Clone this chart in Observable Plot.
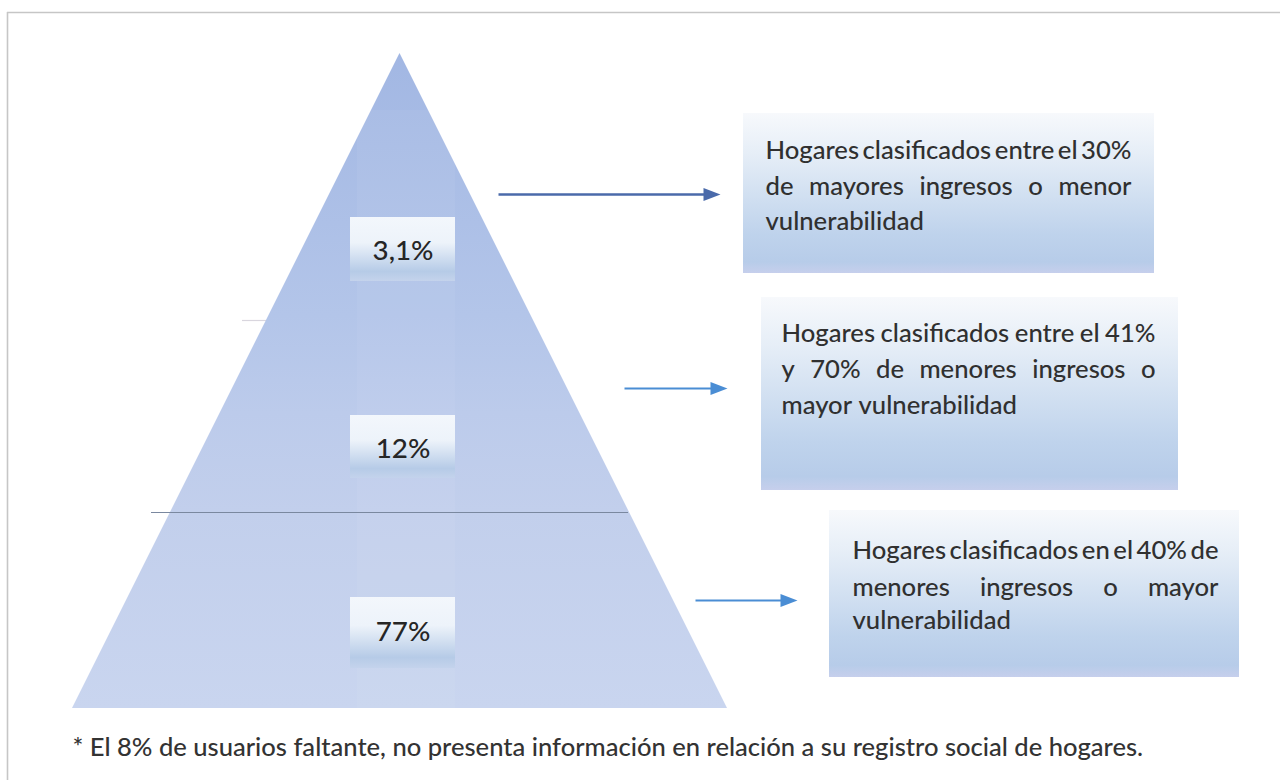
<!DOCTYPE html>
<html>
<head>
<meta charset="utf-8">
<script src="https://cdn.jsdelivr.net/npm/d3@7"></script>
<script src="https://cdn.jsdelivr.net/npm/@observablehq/plot@0.6"></script>
<style>
  html, body { margin: 0; padding: 0; background: #ffffff; }
  #chart svg { display: block; }
</style>
</head>
<body>
<div id="chart"></div>
<script>
// ---------------- data ----------------
const levels = ["top", "middle", "bottom"];
const shares = ["3,1%", "12%", "77%"];
const descriptionTop = ["Hogares clasificados entre el 30%", "de mayores ingresos o menor", "vulnerabilidad"];
const descriptionMiddle = ["Hogares clasificados entre el 41%", "y 70% de menores ingresos o", "mayor vulnerabilidad"];
const descriptionBottom = ["Hogares clasificados en el 40% de", "menores ingresos o mayor", "vulnerabilidad"];
const footnote = "* El 8% de usuarios faltante, no presenta información en relación a su registro social de hogares.";

// ---------------- layout (pixel space, identity scales) ----------------
const W = 1280, H = 780;
const FAMILY = "Lato";
const pyramid = {cx: 399.5, apexY: 53, baseY: 708, baseHalf: 327.5, divider: 512, faintY: 320};
const labelLayout = [
  {x1: 350, x2: 455, y1: 217, y2: 281, ty: 251},
  {x1: 350, x2: 455, y1: 415, y2: 478, ty: 449},
  {x1: 350, x2: 455, y1: 597, y2: 668, ty: 632}
];
const boxLayout = [
  {x1: 743, x2: 1154, y1: 113, y2: 273, tx1: 765, tx2: 1131, lineY: [150, 186, 221]},
  {x1: 761, x2: 1178, y1: 297, y2: 490, tx1: 781, tx2: 1155, lineY: [333, 369, 405]},
  {x1: 829, x2: 1239, y1: 510, y2: 677, tx1: 852, tx2: 1218, lineY: [550, 587, 620]}
];
const arrowLayout = [
  {x1: 498, x2: 711, y: 194, color: "#4a6aaa", w: 2.6},
  {x1: 624, x2: 718, y: 388, color: "#4a8dd4", w: 2.2},
  {x1: 695, x2: 788, y: 600, color: "#4a8dd4", w: 2.2}
];
const captionLayout = {x: 72, y: 747, width: 1071};

// ---------------- text measurement ----------------
const ctx = document.createElement("canvas").getContext("2d");
function textWidth(str, size, weight = 400) { ctx.font = `${weight} ${size}px ${FAMILY}`; return ctx.measureText(str).width; }
function fitSize(str, target, weight = 400) { return 20 * target / textWidth(str, 20, weight); }

const boxFont = fitSize(descriptionTop[0], 378, 500);
const labelFont = fitSize(shares[0], 61, 500);
const captionFont = fitSize(footnote, captionLayout.width, 500);

// ---------------- derived tables ----------------
const halfAt = y => pyramid.baseHalf * (y - pyramid.apexY) / (pyramid.baseY - pyramid.apexY);
const pyramidOutline = [pyramid.apexY, pyramid.baseY].map(y => ({y, x1: pyramid.cx - halfAt(y), x2: pyramid.cx + halfAt(y)}));

const labels = levels.map((lvl, i) => ({level: lvl, share: shares[i], ...labelLayout[i], x: (labelLayout[i].x1 + labelLayout[i].x2) / 2}));
const boxes = levels.map((lvl, i) => ({level: lvl, ...boxLayout[i]}));
const arrows = levels.map((lvl, i) => ({level: lvl, ...arrowLayout[i]}));

const descriptions = [descriptionTop, descriptionMiddle, descriptionBottom];
const words = [];
descriptions.forEach((lines, i) => {
  const b = boxLayout[i];
  const target = b.tx2 - b.tx1;
  lines.forEach((line, j) => {
    const ws = line.split(" ");
    const widths = ws.map(w => textWidth(w, boxFont, 500));
    const total = d3.sum(widths);
    const last = j === lines.length - 1;
    const space = (last || ws.length < 2) ? textWidth(" ", boxFont, 500) : Math.max(1, (target - total) / (ws.length - 1));
    let x = b.tx1;
    ws.forEach((w, k) => { words.push({text: w, x, y: b.lineY[j]}); x += widths[k] + space; });
  });
});

// arrow head symbol (filled, pointing right)
const headSymbol = {
  draw(context) {
    context.moveTo(9, 0);
    context.lineTo(-8, -6.5);
    context.lineTo(-8, 6.5);
    context.closePath();
  }
};

const svg = Plot.plot({
  width: W,
  height: H,
  margin: 0,
  x: {domain: [0, W], range: [0, W], axis: null},
  y: {domain: [0, H], range: [0, H], axis: null},
  style: {background: "#ffffff", fontFamily: FAMILY},
  marks: [
    // frame
    Plot.ruleY([12], {x1: 7, x2: W, stroke: "#c6c6c6", strokeWidth: 1.6}),
    Plot.ruleX([7], {y1: 12, y2: H, stroke: "#c6c6c6", strokeWidth: 1.6}),
    // faint hidden divider tick
    Plot.ruleY([pyramid.faintY], {x1: 242, x2: 268, stroke: "#d9d6de", strokeWidth: 1.2}),
    // pyramid body
    Plot.areaX(pyramidOutline, {y: "y", x1: "x1", x2: "x2", fill: "url(#pyrGrad)"}),
    // lighter central column
    Plot.rect([0], {x1: 357, x2: 455, y1: 110, y2: pyramid.baseY, fill: "#ffffff", fillOpacity: 0.05}),
    // divider line
    Plot.ruleY([pyramid.divider], {x1: 151, x2: 628, stroke: "#7a889f", strokeWidth: 1.2}),
    // share label boxes
    Plot.rect(labels, {x1: "x1", x2: "x2", y1: "y1", y2: "y2", fill: "url(#lblGrad)", ariaLabel: "label-box"}),
    Plot.text(labels, {x: "x", y: "ty", text: "share", fontSize: labelFont, fontFamily: FAMILY, fontWeight: 500, fill: "#262626"}),
    // arrows
    Plot.link(arrows, {x1: "x1", x2: "x2", y1: "y", y2: "y", stroke: "color", strokeWidth: "w"}),
    Plot.dot(arrows, {x: "x2", y: "y", symbol: headSymbol, fill: "color", stroke: null, r: 6}),
    // description boxes
    Plot.rect(boxes, {x1: "x1", x2: "x2", y1: "y1", y2: "y2", fill: "url(#boxGrad)", ariaLabel: "desc-box"}),
    Plot.text(words, {x: "x", y: "y", text: "text", textAnchor: "start", fontSize: boxFont, fontFamily: FAMILY, fontWeight: 500, fill: "#303030"}),
    // footnote
    Plot.text([footnote], {x: captionLayout.x, y: captionLayout.y, text: d => d, textAnchor: "start", fontSize: captionFont, fontFamily: FAMILY, fontWeight: 500, fill: "#333333"})
  ]
});

// gradients and soft edges
const defs = d3.select(svg).insert("defs", ":first-child");
function grad(id, stops) {
  const g = defs.append("linearGradient").attr("id", id).attr("x1", 0).attr("y1", 0).attr("x2", 0).attr("y2", 1);
  stops.forEach(([o, c]) => g.append("stop").attr("offset", o).attr("stop-color", c));
}
grad("pyrGrad", [[0, "#a2b7e3"], [0.4, "#b3c5e9"], [0.55, "#bccbeb"], [0.7, "#c2cfec"], [1, "#c9d5ef"]]);
grad("lblGrad", [[0, "#f3f7fc"], [0.4, "#edf3fa"], [0.85, "#b6cbe7"], [1, "#c4d3ec"]]);
grad("boxGrad", [[0, "#f7f9fc"], [0.25, "#e6eef7"], [0.75, "#bfd3ec"], [0.93, "#b7cce9"], [1, "#c6cfec"]]);
defs.append("filter").attr("id", "soft").attr("x", "-5%").attr("y", "-5%").attr("width", "110%").attr("height", "110%")
  .append("feGaussianBlur").attr("stdDeviation", 1.3);
d3.select(svg).selectAll('g[aria-label="desc-box"], g[aria-label="label-box"]').attr("filter", "url(#soft)");

document.getElementById("chart").appendChild(svg);
</script>
</body>
</html>
